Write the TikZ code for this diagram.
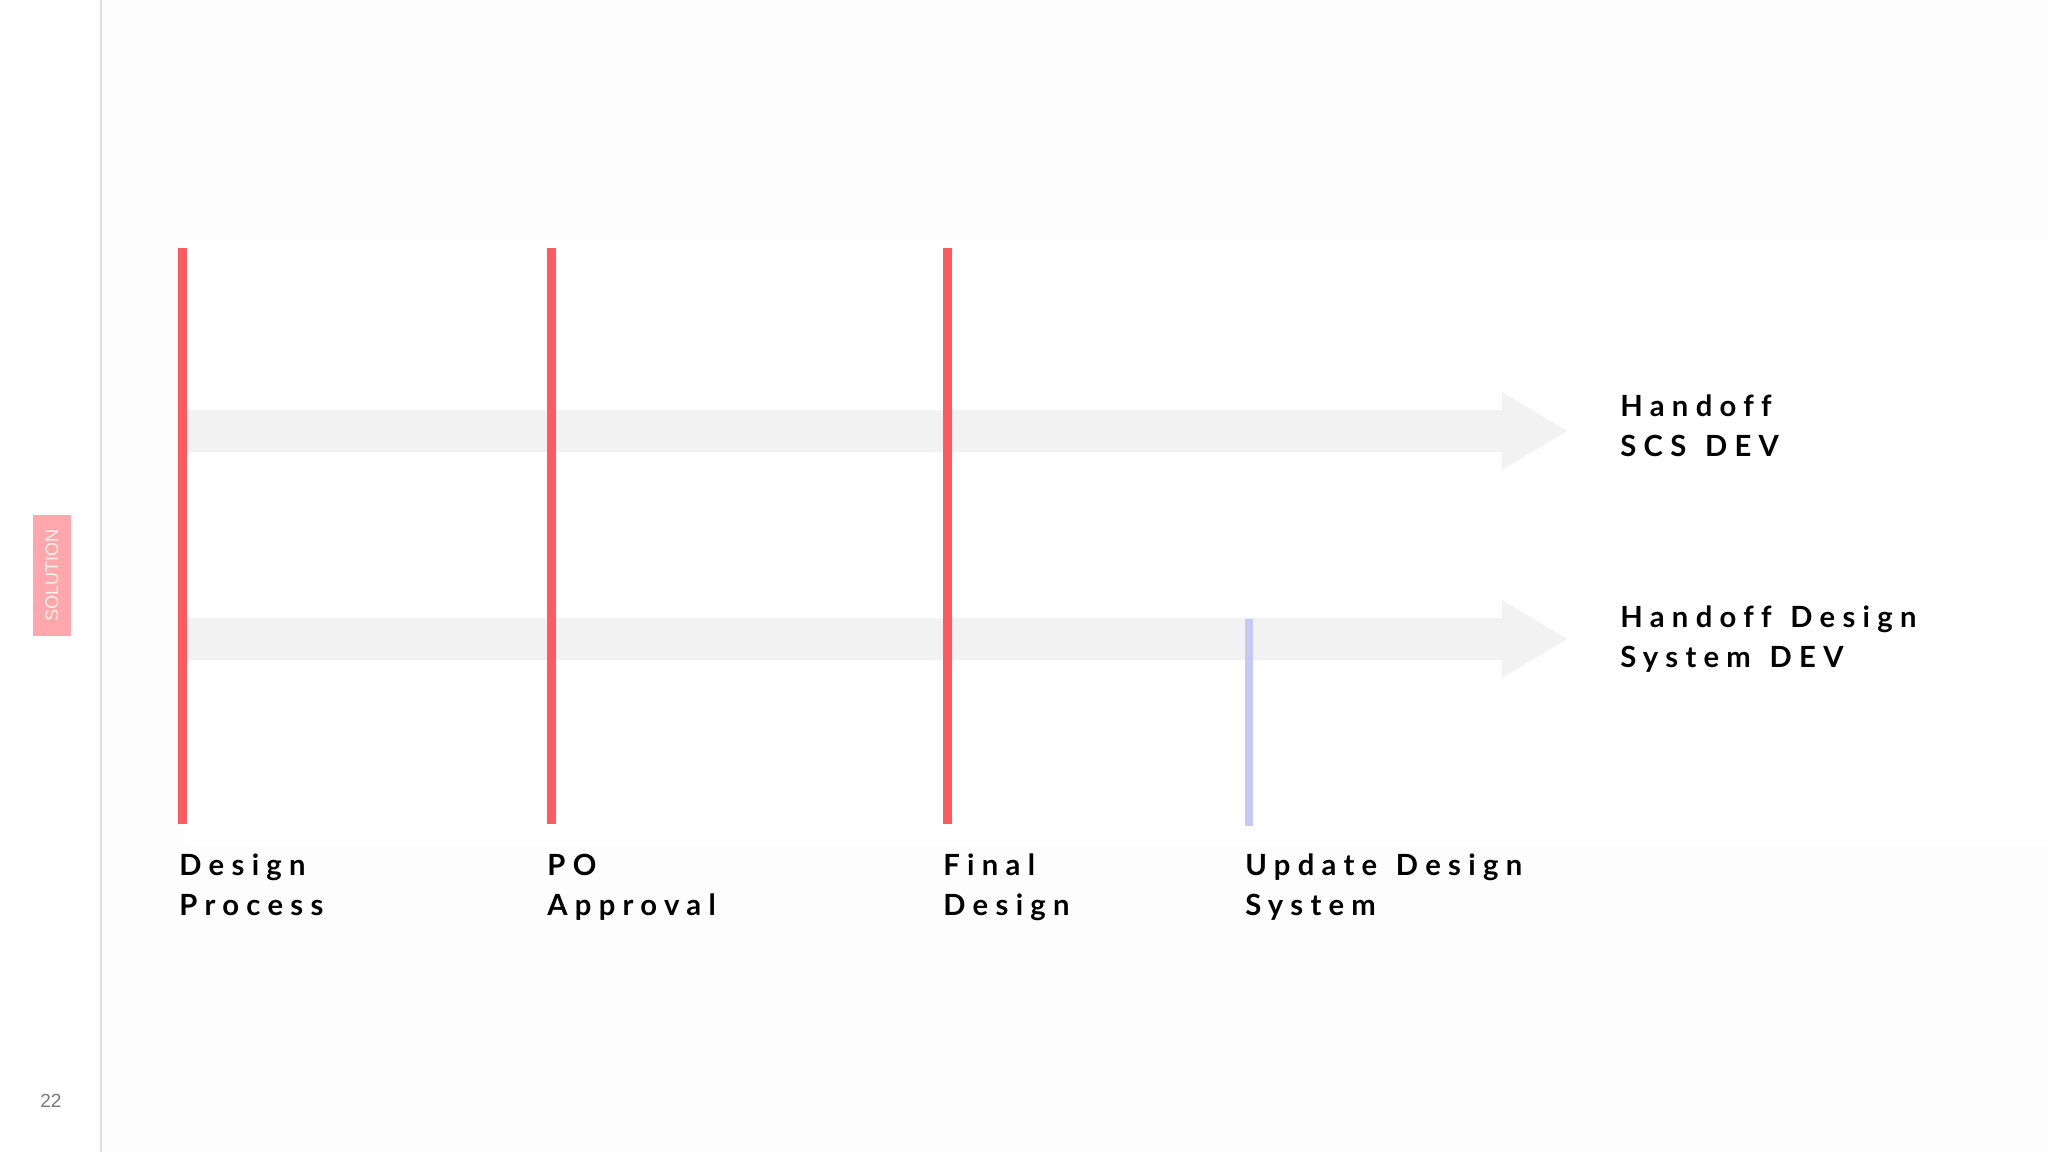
\documentclass[tikz,border=0pt]{standalone}
\usepackage{fontspec}
\newfontfamily\lblfont{Lato}[LetterSpace=25, Ligatures={NoCommon}, WordSpace=1.3]
\newfontfamily\tagfont{Liberation Sans}
\definecolor{mred}{HTML}{FF5A5F}
\definecolor{mblue}{HTML}{C5CAF2}
\definecolor{marrow}{HTML}{F2F2F2}
\definecolor{mpink}{HTML}{FFA7AD}
\definecolor{mtagtext}{HTML}{FFF1EA}
\definecolor{mdivider}{HTML}{DEDCDC}
\definecolor{mbg}{HTML}{FEFDFD}
\definecolor{mnum}{HTML}{7A7A7A}
\tikzset{
  milestone/.style={draw=mred, line width=4.5pt},
  sysline/.style={draw=mblue, line width=4pt},
  flowarrow/.style={fill=marrow, draw=none},
  lbl/.style={font={\lblfont\bfseries\fontsize{14.6}{20}\selectfont}, anchor=base west, inner sep=0pt, text=black},
}
\begin{document}
\begin{tikzpicture}[x=0.5pt,y=-0.5pt]
\useasboundingbox (0,0) rectangle (2048,1152);
% backgrounds
\fill[white] (0,0) rectangle (2048,1152);
\fill[mbg] (101,0) rectangle (2048,1152);
\fill[white] (186,240) rectangle (2048,845);
\draw[mdivider, line width=1pt] (100.5,0) -- (100.5,1152);

% side tag
\node (tag) [fill=mpink, minimum width=19pt, minimum height=60.5pt, inner sep=0pt] at (52,575.5) {};
\node (tagtext) [rotate=90, text=mtagtext, font={\tagfont\fontsize{9}{10}\selectfont}, inner sep=0pt] at (tag.center) {SOLUTION};
\node (pagenum) [text=mnum, font={\tagfont\fontsize{9.5}{10}\selectfont}, anchor=base west, inner sep=0pt] at (40,1107) {22};

% flow arrows
\fill[flowarrow] (182,410) -- (1502,410) -- (1502,392) -- (1567,431) -- (1502,470) -- (1502,452) -- (182,452) -- cycle;
\fill[flowarrow] (182,618) -- (1502,618) -- (1502,600) -- (1567,639) -- (1502,678) -- (1502,660) -- (182,660) -- cycle;

% milestones
\coordinate (m1t) at (182.5,248); \coordinate (m1b) at (182.5,824);
\coordinate (m2t) at (551.5,248); \coordinate (m2b) at (551.5,824);
\coordinate (m3t) at (947,248);   \coordinate (m3b) at (947,824);
\coordinate (m4t) at (1249,619);  \coordinate (m4b) at (1249,826);
\draw[milestone] (m1t) -- (m1b);
\draw[milestone] (m2t) -- (m2b);
\draw[milestone] (m3t) -- (m3b);
\draw[sysline] (m4t) -- (m4b);

% labels
\node (l1a) [lbl] at (179,875) {Design};
\node (l1b) [lbl] at (179,915.5) {Process};
\node (l2a) [lbl] at (547,875) {PO};
\node (l2b) [lbl] at (547,915.5) {Approval};
\node (l3a) [lbl] at (943,875) {Final};
\node (l3b) [lbl] at (943,915.5) {Design};
\node (l4a) [lbl] at (1245,875) {Update Design};
\node (l4b) [lbl] at (1245,915.5) {System};
\node (h1a) [lbl] at (1620,416) {Handoff};
\node (h1b) [lbl] at (1620,456.5) {SCS DEV};
\node (h2a) [lbl] at (1620,627) {Handoff Design};
\node (h2b) [lbl] at (1620,667.5) {System DEV};
\end{tikzpicture}
\end{document}
